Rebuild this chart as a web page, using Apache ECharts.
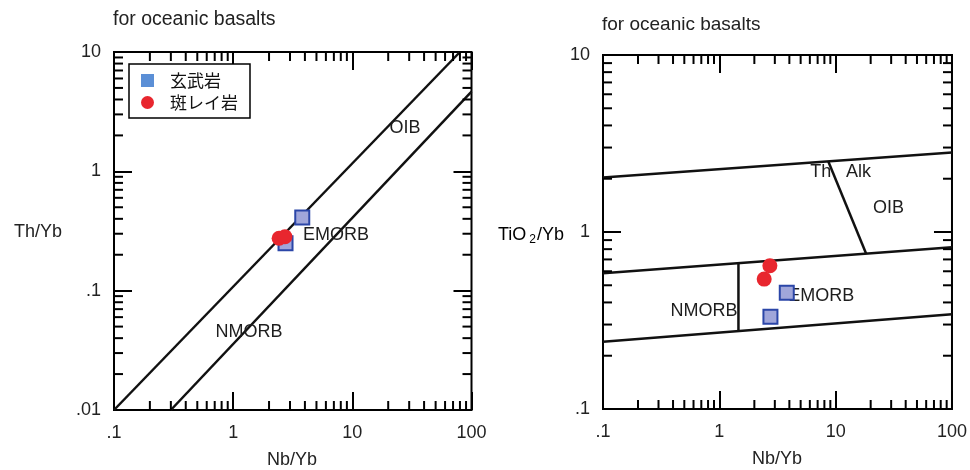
<!DOCTYPE html>
<html>
<head>
<meta charset="utf-8">
<script src="https://cdn.jsdelivr.net/npm/echarts@6/dist/echarts.min.js"></script>
<style>html,body{margin:0;padding:0;background:#fff}#c{width:970px;height:470px}</style>
</head>
<body>
<div id="c"></div>
<script>
// ---- data ----
const seriesNames = ['玄武岩', '斑レイ岩'];
// Nb/Yb (shared by both diagrams)
const basaltNbYb = [3.8, 2.75];
const gabbroNbYb = [2.43, 2.72];
// Th/Yb
const basaltThYb = [0.41, 0.25];
const gabbroThYb = [0.275, 0.283];
// TiO2/Yb
const basaltTiYb = [0.454, 0.332];
const gabbroTiYb = [0.542, 0.645];

// boundary lines [Nb/Yb, value]
const leftUpperLine = [[0.1, 0.01], [80, 10]];
const leftLowerLine = [[0.3, 0.01], [100, 4.65]];
const rightTopLine = [[0.1, 2.03], [100, 2.81]];
const rightMidLine = [[0.1, 0.584], [100, 0.82]];
const rightLowLine = [[0.1, 0.24], [100, 0.343]];
const rightNmorbDivider = [[1.46, 0.666], [1.46, 0.276]];
const rightThAlkDivider = [[8.65, 2.505], [18.3, 0.754]];

// field labels [Nb/Yb, value, text]
const leftAnnotations = [[27.7, 2.30, 'OIB'], [7.3, 0.293, 'EMORB'], [1.355, 0.0453, 'NMORB']];
const rightAnnotations = [[7.46, 2.17, 'Th'], [15.7, 2.17, 'Alk'], [28.4, 1.36, 'OIB'], [0.738, 0.358, 'NMORB'], [7.53, 0.435, 'EMORB']];

// axis ticks
const xMajorTicks = [0.1, 1, 10, 100];
const leftYMajorTicks = [0.01, 0.1, 1, 10];
const rightYMajorTicks = [0.1, 1, 10];
const minorMultipliers = [2, 3, 4, 5, 6, 7, 8, 9];
const xDecades = [0.1, 1, 10];
const leftYDecades = [0.01, 0.1, 1];
const rightYDecades = [0.1, 1];

// ---- build ----
const FONT = '"Liberation Sans", Arial, sans-serif';
const TXT = '#222';
function minors(decades) {
  const out = [];
  decades.forEach(d => minorMultipliers.forEach(m => out.push(+(d * m).toPrecision(6))));
  return out;
}
function fmt(v) {
  const s = String(+v.toPrecision(6));
  return s.startsWith('0.') ? s.slice(1) : s;
}
const MINOR_LEN = 9;
function xMinorSeries(gi, ymin, ymax) {
  return {
    type: 'custom', xAxisIndex: gi * 2, yAxisIndex: gi * 2, silent: true, z: 5,
    data: minors(xDecades).map(v => [v, ymin]),
    renderItem: (p, api) => {
      const v = api.value(0);
      const b = api.coord([v, ymin]); const t = api.coord([v, ymax]);
      const st = { stroke: '#000', lineWidth: 2 };
      return { type: 'group', children: [
        { type: 'line', shape: { x1: b[0], y1: b[1], x2: b[0], y2: b[1] - MINOR_LEN }, style: st },
        { type: 'line', shape: { x1: t[0], y1: t[1], x2: t[0], y2: t[1] + MINOR_LEN }, style: st }
      ] };
    }
  };
}
function yMinorSeries(gi, decades, xmin, xmax) {
  return {
    type: 'custom', xAxisIndex: gi * 2, yAxisIndex: gi * 2, silent: true, z: 5,
    data: minors(decades).map(v => [xmin, v]),
    renderItem: (p, api) => {
      const v = api.value(1);
      const l = api.coord([xmin, v]); const r = api.coord([xmax, v]);
      const st = { stroke: '#000', lineWidth: 2 };
      return { type: 'group', children: [
        { type: 'line', shape: { x1: l[0], y1: l[1], x2: l[0] + MINOR_LEN, y2: l[1] }, style: st },
        { type: 'line', shape: { x1: r[0], y1: r[1], x2: r[0] - MINOR_LEN, y2: r[1] }, style: st }
      ] };
    }
  };
}
function lineSeries(gi, data) {
  return { type: 'line', xAxisIndex: gi * 2, yAxisIndex: gi * 2, data: data, symbol: 'none',
    lineStyle: { color: '#111', width: 2.5 }, silent: true, z: 3, animation: false };
}
function annoSeries(gi, arr) {
  return { type: 'scatter', xAxisIndex: gi * 2, yAxisIndex: gi * 2, symbolSize: 0, silent: true, z: 3,
    itemStyle: { opacity: 1 },
    data: arr.map(a => ({ value: [a[0], a[1]], name: a[2] })),
    label: { show: true, position: 'inside', formatter: '{b}', color: '#1e1e1e', opacity: 1, fontSize: 18, fontFamily: FONT } };
}
function pts(xs, ys) { return xs.map((x, i) => [x, ys[i]]); }
function basaltSeries(gi, ys) {
  return { name: seriesNames[0], type: 'scatter', xAxisIndex: gi * 2, yAxisIndex: gi * 2, symbol: 'rect', symbolSize: 14,
    itemStyle: { color: '#a0a6da', borderColor: '#2b46a8', borderWidth: 2, opacity: 1 }, z: 6, data: pts(basaltNbYb, ys) };
}
function gabbroSeries(gi, ys) {
  return { name: seriesNames[1], type: 'scatter', xAxisIndex: gi * 2, yAxisIndex: gi * 2, symbol: 'circle', symbolSize: 15,
    itemStyle: { color: '#e8262e', opacity: 1 }, z: 7, data: pts(gabbroNbYb, ys) };
}
const tickStyle = { show: true, inside: true, length: 18, lineStyle: { color: '#000', width: 2 } };
function xAxes(gi) {
  const base = { type: 'log', logBase: 10, min: 0.1, max: 100, gridIndex: gi, splitLine: { show: false },
    axisLine: { show: false }, axisTick: tickStyle };
  return [
    Object.assign({}, base, { position: 'bottom', axisLabel: { show: true, margin: 14, formatter: fmt, color: TXT, fontSize: 18, fontFamily: FONT } }),
    Object.assign({}, base, { position: 'top', axisLabel: { show: false } })
  ];
}
function yAxes(gi, min, max) {
  const base = { type: 'log', logBase: 10, min: min, max: max, gridIndex: gi, splitLine: { show: false },
    axisLine: { show: false }, axisTick: tickStyle };
  return [
    Object.assign({}, base, { position: 'left', axisLabel: { show: true, margin: 13, formatter: fmt, color: TXT, fontSize: 18, fontFamily: FONT } }),
    Object.assign({}, base, { position: 'right', axisLabel: { show: false } })
  ];
}

const chart = echarts.init(document.getElementById('c'), null, { renderer: 'canvas' });
chart.setOption({
  animation: false,
  backgroundColor: '#fff',
  grid: [
    { left: 114, top: 52, width: 357.5, height: 358, show: true, borderColor: '#000', borderWidth: 2, containLabel: false },
    { left: 603, top: 55, width: 349, height: 354, show: true, borderColor: '#000', borderWidth: 2, containLabel: false }
  ],
  xAxis: [].concat(xAxes(0), xAxes(1)),
  yAxis: [].concat(yAxes(0, 0.01, 10), yAxes(1, 0.1, 10)),
  legend: {
    left: 129, top: 64, orient: 'vertical', padding: [8, 12, 7, 12],
    itemWidth: 13, itemHeight: 13, itemGap: 5,
    borderColor: '#000', borderWidth: 1.5, backgroundColor: '#fff',
    textStyle: { fontFamily: '"Noto Sans CJK JP"', fontSize: 17, color: '#111', padding: [0, 0, 0, 11] },
    selectedMode: false,
    data: [
      { name: seriesNames[0], icon: 'rect', itemStyle: { color: '#5b8fd6', borderWidth: 0 } },
      { name: seriesNames[1], icon: 'circle', itemStyle: { color: '#e8262e', borderWidth: 0 } }
    ]
  },
  graphic: [
    { type: 'text', x: 113, y: 20, style: { text: 'for oceanic basalts', font: '19.5px ' + FONT, fill: TXT, align: 'left', verticalAlign: 'middle' } },
    { type: 'text', x: 602, y: 25, style: { text: 'for oceanic basalts', font: '19px ' + FONT, fill: TXT, align: 'left', verticalAlign: 'middle' } },
    { type: 'text', x: 292, y: 460, style: { text: 'Nb/Yb', font: '18px ' + FONT, fill: TXT, align: 'center', verticalAlign: 'middle' } },
    { type: 'text', x: 777, y: 459, style: { text: 'Nb/Yb', font: '18px ' + FONT, fill: TXT, align: 'center', verticalAlign: 'middle' } },
    { type: 'text', x: 38, y: 232, style: { text: 'Th/Yb', font: '18px ' + FONT, fill: TXT, align: 'center', verticalAlign: 'middle' } },
    { type: 'text', x: 531, y: 235, style: {
      text: '{a|TiO}{s|2}{a|/Yb}', align: 'center', verticalAlign: 'middle',
      rich: { a: { fontSize: 18, fontFamily: FONT, color: TXT }, s: { fontSize: 12, fontFamily: FONT, color: TXT, padding: [9, 1, 0, 3] } } } }
  ],
  series: [
    xMinorSeries(0, 0.01, 10), yMinorSeries(0, leftYDecades, 0.1, 100),
    xMinorSeries(1, 0.1, 10), yMinorSeries(1, rightYDecades, 0.1, 100),
    lineSeries(0, leftUpperLine), lineSeries(0, leftLowerLine),
    lineSeries(1, rightTopLine), lineSeries(1, rightMidLine), lineSeries(1, rightLowLine),
    lineSeries(1, rightNmorbDivider), lineSeries(1, rightThAlkDivider),
    annoSeries(0, leftAnnotations), annoSeries(1, rightAnnotations),
    basaltSeries(0, basaltThYb), gabbroSeries(0, gabbroThYb),
    basaltSeries(1, basaltTiYb), gabbroSeries(1, gabbroTiYb)
  ]
});
</script>
</body>
</html>
